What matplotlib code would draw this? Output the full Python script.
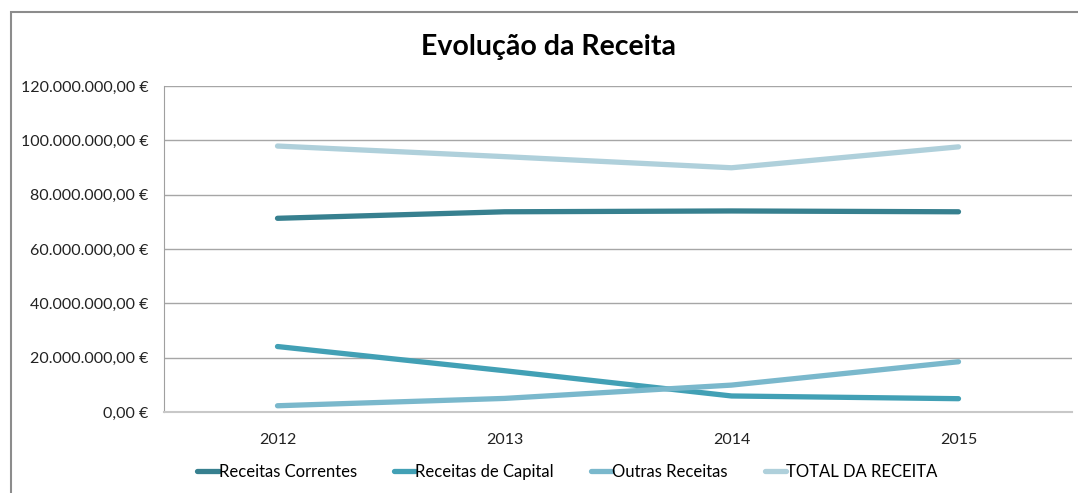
import matplotlib
matplotlib.use("Agg")
import matplotlib.pyplot as plt
from matplotlib.patches import Rectangle
from matplotlib.ticker import FuncFormatter, MultipleLocator

plt.rcParams['font.family'] = ['Lato', 'DejaVu Sans']

anos = ['2012', '2013', '2014', '2015']
series = ['Receitas Correntes', 'Receitas de Capital', 'Outras Receitas', 'TOTAL DA RECEITA']
receitas_correntes = [71.3e6, 73.7e6, 74.0e6, 73.7e6]
receitas_capital = [24.1e6, 15.2e6, 5.9e6, 4.9e6]
outras_receitas = [2.3e6, 5.0e6, 9.9e6, 18.5e6]
total_receita = [97.9e6, 94.0e6, 89.9e6, 97.6e6]
cores = ['#37808f', '#42a0b5', '#7ab8cc', '#afd0db']


def euros(v, pos):
    s = '{:,.2f}'.format(v).replace(',', 'X').replace('.', ',').replace('X', '.')
    return s + ' €'


fig = plt.figure(figsize=(10.78, 4.93), dpi=100)
ax = fig.add_axes([164 / 1078, 1 - 412 / 493, (1072 - 164) / 1078, (412 - 86) / 493])

x = range(len(anos))
valores = [receitas_correntes, receitas_capital, outras_receitas, total_receita]
for nome, vals, cor in zip(series, valores, cores):
    ax.plot(x, vals, color=cor, lw=3.8, solid_capstyle='round', solid_joinstyle='round', label=nome)

ax.set_xlim(-0.5, len(anos) - 0.5)
ax.set_ylim(0, 120e6)
ax.set_xticks(list(x))
ax.set_xticklabels(anos)
ax.yaxis.set_major_locator(MultipleLocator(20e6))
ax.yaxis.set_major_formatter(FuncFormatter(euros))
ax.tick_params(axis='both', length=0, labelsize=11.5, colors='#222222')
ax.tick_params(axis='y', pad=11)
ax.tick_params(axis='x', pad=15)
ax.grid(axis='y', color='#a6a6a6', lw=1)
ax.set_axisbelow(True)
for s in ['top', 'right']:
    ax.spines[s].set_visible(False)
ax.spines['left'].set_color('#a0a0a0')
ax.spines['bottom'].set_color('#c8c8c8')
ax.spines['bottom'].set_linewidth(1.5)

fig.text(0.509, 0.905, 'Evolução da Receita', ha='center', va='center', fontsize=20.5, fontweight='bold')

fig.legend(loc='center', bbox_to_anchor=(0.5264, 0.0426), ncol=4, frameon=False,
           fontsize=12, handlelength=1.3, handletextpad=0.0, columnspacing=2.2)

fig.patches.append(Rectangle((11 / 1078, -0.1), 1.2, 1.1 - 12 / 493, transform=fig.transFigure,
                             fill=False, edgecolor='#8c8c8c', lw=1.5))

fig.savefig('out.png', dpi=100)
